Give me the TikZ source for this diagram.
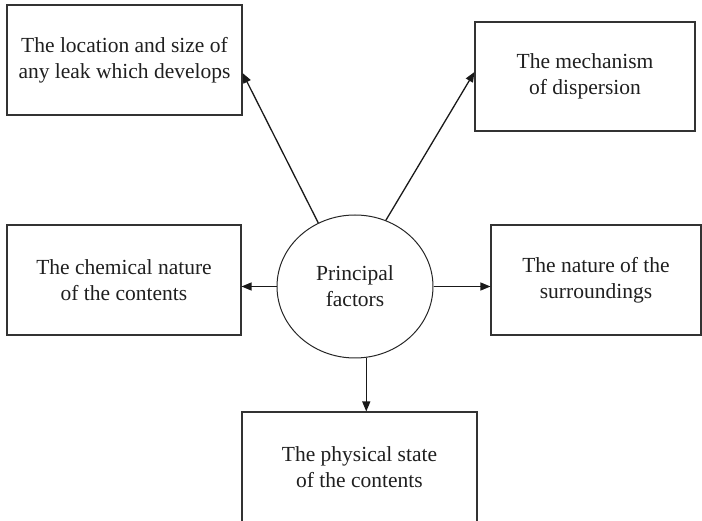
\documentclass[tikz,border=0pt]{standalone}
\usepackage{fontspec}
\setmainfont{Liberation Serif}
\usetikzlibrary{shapes.geometric,arrows.meta,calc}
\begin{document}
\begin{tikzpicture}[x=1pt,y=-1pt,
  factor/.style={draw=black!80, line width=1.1pt, rectangle, align=center,
    font=\fontsize{21.5}{26}\selectfont, text=black!88, inner sep=0pt},
  hub/.style={draw=black!85, line width=1pt, ellipse, align=center,
    font=\fontsize{21.5}{26}\selectfont, text=black!88, inner sep=0pt,
    minimum width=156pt, minimum height=143pt},
  link/.style={line width=1.3pt, draw=black!90, -{Triangle[length=10pt,width=8pt]}}]
\useasboundingbox (0,0) rectangle (702,521);
% the five factor boxes
\node[factor, minimum width=235pt, minimum height=110pt] (tl) at (124.5,60)
  {The location and size of\\any leak which develops};
\node[factor, minimum width=220pt, minimum height=109pt] (tr) at (585,76.5)
  {The mechanism\\of dispersion};
\node[factor, minimum width=234pt, minimum height=110pt] (ml) at (124,280)
  {The chemical nature\\of the contents};
\node[factor, minimum width=210pt, minimum height=110pt] (mr) at (596,280)
  {The nature of the\\surroundings};
\node[factor, minimum width=235pt, minimum height=111pt] (bt) at (359.5,467.5)
  {The physical state\\of the contents};
% central hub
\node[hub] (c) at (355,286.5) {Principal\\factors};
% connectors
\draw[link] (c.120.2) -- ($(tl.east)+(0,13)$);
\draw[link] (c.65.7) -- ($(tr.west)+(0,-4.5)$);
\draw[link] (c.west) -- (c.west -| ml.east);
\draw[link] (c.east) -- (c.east -| mr.west);
\draw[link] (c.279.6) -- (c.279.6 |- bt.north);
\end{tikzpicture}
\end{document}
